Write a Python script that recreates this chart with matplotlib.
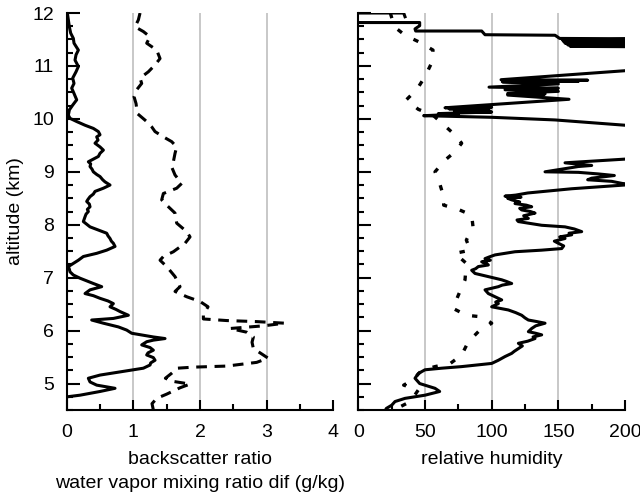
import numpy as np
import matplotlib
matplotlib.use('Agg')
import matplotlib.pyplot as plt
from matplotlib.ticker import MultipleLocator

plt.rcParams['font.family'] = ['Liberation Sans', 'DejaVu Sans']

# backscatter ratio (solid, left panel)
bsr_alt = [12.00, 11.87, 11.74, 11.62, 11.52, 11.43, 11.30, 11.21, 11.11, 10.99,
           10.89, 10.77, 10.67, 10.58, 10.48, 10.36, 10.26, 10.17, 10.07, 10.01,
           9.95, 9.88, 9.82, 9.76, 9.70, 9.66, 9.60, 9.54, 9.47, 9.41, 9.35, 9.29,
           9.19, 9.15, 9.10, 9.05, 9.00, 8.95, 8.91, 8.85, 8.81, 8.75, 8.69, 8.63,
           8.58, 8.53, 8.48, 8.44, 8.39, 8.34, 8.29, 8.25, 8.20, 8.15, 8.06, 7.96,
           7.90, 7.84, 7.79, 7.74, 7.69, 7.65, 7.59, 7.52, 7.46, 7.40, 7.33, 7.27,
           7.21, 7.16, 7.11, 7.05, 6.99, 6.94, 6.89, 6.83, 6.77, 6.70, 6.66, 6.61,
           6.56, 6.51, 6.45, 6.40, 6.36, 6.29, 6.23, 6.20, 6.14, 6.07, 6.01, 5.95,
           5.88, 5.85, 5.82, 5.79, 5.73, 5.68, 5.63, 5.58, 5.54, 5.49, 5.44, 5.39,
           5.35, 5.29, 5.22, 5.16, 5.10, 5.03, 4.97, 4.91, 4.85, 4.78, 4.75]
bsr = [0.01, 0.025, 0.04, 0.06, 0.10, 0.11, 0.175, 0.14, 0.125, 0.175,
       0.14, 0.09, 0.11, 0.075, 0.11, 0.15, 0.09, 0.04, 0.025, 0.05,
       0.15, 0.275, 0.40, 0.475, 0.50, 0.45, 0.47, 0.425, 0.50, 0.55, 0.50, 0.475,
       0.325, 0.36, 0.35, 0.38, 0.40, 0.45, 0.50, 0.54, 0.575, 0.65, 0.55, 0.425,
       0.40, 0.35, 0.32, 0.30, 0.34, 0.35, 0.31, 0.325, 0.29, 0.275, 0.25, 0.35,
       0.475, 0.60, 0.62, 0.65, 0.67, 0.70, 0.725, 0.60, 0.45, 0.25, 0.175, 0.10,
       0.025, 0.04, 0.05, 0.10, 0.20, 0.30, 0.40, 0.525, 0.35, 0.275, 0.40, 0.50,
       0.62, 0.70, 0.65, 0.74, 0.80, 0.925, 0.70, 0.375, 0.55, 0.775, 0.90, 0.975,
       1.30, 1.475, 1.30, 1.20, 1.125, 1.25, 1.30, 1.22, 1.20, 1.30, 1.325, 1.26,
       1.25, 1.15, 0.80, 0.50, 0.325, 0.35, 0.45, 0.725, 0.50, 0.20, 0.01]

# water vapor mixing ratio difference (dashed, left panel)
wv_alt = [12.00, 11.87, 11.74, 11.65, 11.55, 11.43, 11.30, 11.14, 11.02, 10.89,
          10.77, 10.67, 10.55, 10.42, 10.29, 10.10, 9.95, 9.85, 9.76, 9.66,
          9.57, 9.47, 9.35, 9.19, 9.09, 8.94, 8.78, 8.69, 8.59, 8.47, 8.37, 8.22,
          8.03, 7.87, 7.77, 7.65, 7.49, 7.40, 7.33, 7.21, 7.02, 6.83, 6.74, 6.64,
          6.55, 6.45, 6.30, 6.22, 6.19, 6.17, 6.14, 6.09, 6.04, 5.97, 5.88, 5.78,
          5.66, 5.58, 5.48, 5.40, 5.33, 5.31, 5.29, 5.20, 5.10, 5.04, 4.99, 4.92,
          4.86, 4.80, 4.72, 4.62, 4.50]
wv = [1.10, 1.075, 1.025, 1.15, 1.25, 1.20, 1.35, 1.40, 1.325, 1.225,
      1.10, 1.125, 1.05, 1.01, 1.04, 1.06, 1.20, 1.275, 1.325, 1.45,
      1.575, 1.65, 1.625, 1.60, 1.575, 1.625, 1.725, 1.65, 1.45, 1.425, 1.50, 1.625,
      1.65, 1.80, 1.85, 1.775, 1.60, 1.45, 1.40, 1.50, 1.625, 1.70, 1.625, 1.80,
      2.00, 2.12, 2.05, 2.05, 2.40, 2.85, 3.27, 2.95, 2.45, 2.70, 2.80, 2.78,
      2.80, 2.90, 3.02, 2.85, 2.40, 1.90, 1.66, 1.58, 1.48, 1.60, 1.85, 1.70,
      1.60, 1.50, 1.35, 1.28, 1.30]

# relative humidity (solid, right panel), nan = gap
rh_alt = [12.00, 12.00, 11.93, np.nan,
          11.82, 11.82, 11.76, 11.70, 11.66, 11.66, 11.59, 11.58,
          11.52, 11.51, 11.49, 11.48, 11.46, 11.45, 11.43, 11.42, 11.40, 11.39, 11.37, 11.36,
          10.92, 10.91, 10.74, 10.73, 10.72, 10.71, 10.70, 10.66, 10.60, 10.58, 10.55,
          10.52, 10.48, 10.47, 10.45, 10.37, 10.21, 10.22, 10.19, 10.17, 10.15, 10.13,
          10.10, 10.09, 10.06, 10.03, 9.98, 9.88, 9.85,
          9.30, 9.24, 9.17, 9.12, 9.10, 9.00, 8.99, 8.96, 8.93, 8.88, 8.85, 8.82,
          8.78, 8.76, 8.68, 8.60, 8.56, 8.54, 8.52, 8.50,
          8.47, 8.43, 8.40, 8.37, 8.34, 8.31, 8.28, 8.25, 8.22, 8.17, 8.12, 8.09,
          8.06, 7.99, 7.96, 7.92, 7.87, 7.84, 7.81, 7.77, 7.74,
          7.69, 7.65, 7.60, 7.55, 7.52, 7.49, 7.43, 7.39, 7.36, 7.33, 7.30, 7.27,
          7.24, 7.21, 7.17, 7.14, 7.08, 7.02,
          6.96, 6.93, 6.89, 6.86, 6.83, 6.77, 6.70, 6.64, 6.58, 6.54, 6.51, 6.45,
          6.39, 6.34, 6.29, 6.24, 6.20, 6.17, 6.14, 6.09, 6.04, 5.98, 5.95, 5.92,
          5.88, 5.85, 5.80, 5.76, 5.71, 5.66, 5.61, 5.57, 5.51, 5.44, 5.38, 5.32,
          5.29, 5.26, 5.19, 5.10, 5.00, 4.91, 4.85, 4.78, 4.72, 4.66, 4.59, 4.53, 4.48]
rh = [0, 34, 35, np.nan,
      0, 46, 46, 42.5, 43, 92.5, 95, 147.5,
      151, 230, 153, 230, 154, 230, 155, 230, 157, 230, 159, 230,
      215, 200, 107, 172, 110, 165, 108, 150, 98, 150, 110,
      150, 112, 140, 112, 158, 65, 100, 68, 98, 72, 100,
      60, 75, 49, 100, 147.5, 200, 220,
      220, 200, 155, 175, 165, 140, 165, 180, 192, 175, 172, 190,
      198, 205, 160, 127, 118, 110, 122, 112,
      115, 121, 117.5, 126, 130, 121, 122.5, 129, 132.5, 124, 127.5, 119,
      120, 137.5, 155, 162, 167.5, 158, 160, 151, 155,
      147, 150, 154, 152.5, 137.5, 117.5, 102.5, 98, 95, 99, 92.5, 96,
      97.5, 90, 88, 85, 87.5, 97.5,
      107.5, 111, 115, 108, 105, 95, 97.5, 102.5, 107.5, 103, 105, 100,
      112.5, 118, 122.5, 125, 127.5, 134, 140, 133, 130, 127.5, 133, 137.5,
      131, 132.5, 127, 120, 123, 120, 117, 115, 110, 105, 100, 77.5,
      62.5, 50, 45, 42.5, 46, 57.5, 61, 50, 35, 27.5, 25, 21, 20]

# dotted line, right panel
rh2_alt = [12.00, 11.74, 11.58, 11.46, 11.30, 11.06, 10.80, 10.56, 10.36, 10.18,
           10.07, 9.73, 9.54, 9.38, 9.22, 9.00, 8.78, 8.53, 8.37, 8.29, 8.18,
           7.96, 7.71, 7.52, 7.46, 7.27, 6.96, 6.67, 6.42, 6.29, 6.26, 6.14,
           5.98, 5.79, 5.54, 5.38, 5.32, 5.25, 5.07, 4.97, 4.88, 4.66, 4.53]
rh2 = [24, 27, 35, 45, 56, 55, 50, 44, 36, 45,
       56, 71, 77.5, 72.5, 65, 57.5, 61, 64, 64, 75, 85,
       86, 81, 84, 72.5, 81, 80, 75, 71, 81, 92.5, 100,
       90, 82.5, 77.5, 69, 57.5, 47.5, 41, 34, 45, 39, 29]

fig = plt.figure(figsize=(6.4, 4.95), dpi=100)
ax1 = fig.add_axes([0.1042, 0.1717, 0.4167, 0.802])
ax2 = fig.add_axes([0.5599, 0.1717, 0.4167, 0.802])

for g in [1, 2, 3]:
    ax1.axvline(g, color='#c4c4c4', lw=1.3, zorder=0)
for g in [50, 100, 150]:
    ax2.axvline(g, color='#c4c4c4', lw=1.3, zorder=0)

ax1.plot(bsr, bsr_alt, color='black', lw=2.2)
ax1.plot(wv, wv_alt, color='black', lw=2.2, linestyle=(0, (3.5, 2.5)))
ax2.plot(rh, rh_alt, color='black', lw=2.2)
ax2.plot(rh2, rh2_alt, color='black', lw=2.4, linestyle=(0, (1.6, 4.0)))

ax1.set_xlim(0, 4)
ax2.set_xlim(0, 200)
for ax in (ax1, ax2):
    ax.set_ylim(4.5, 12)
    ax.spines['top'].set_visible(False)
    ax.spines['right'].set_visible(False)
    ax.spines['left'].set_linewidth(1.5)
    ax.spines['bottom'].set_linewidth(1.5)
    ax.yaxis.set_major_locator(MultipleLocator(1))
    ax.yaxis.set_minor_locator(MultipleLocator(0.25))
    ax.tick_params(axis='both', which='both', direction='in', width=1.5, labelsize=14)
    ax.tick_params(axis='y', which='major', length=9, pad=9)
    ax.tick_params(axis='y', which='minor', length=4.5)
    ax.tick_params(axis='x', which='major', length=7, pad=10)
    ax.tick_params(axis='x', which='minor', length=4)

ax1.xaxis.set_major_locator(MultipleLocator(1))
ax1.xaxis.set_minor_locator(MultipleLocator(0.5))
ax2.xaxis.set_major_locator(MultipleLocator(50))
ax2.xaxis.set_minor_locator(MultipleLocator(25))
ax2.tick_params(axis='y', labelleft=False)

ax1.set_ylabel('altitude (km)', fontsize=14, labelpad=6)
ax1.set_xlabel('backscatter ratio\nwater vapor mixing ratio dif (g/kg)', fontsize=14,
               linespacing=1.6)
ax2.set_xlabel('relative humidity', fontsize=14)
for ax in (ax1, ax2):
    ax.xaxis.set_label_coords(0.5, -0.102)
    ax.xaxis.label.set_va('top')

fig.savefig('out.png', dpi=100)
